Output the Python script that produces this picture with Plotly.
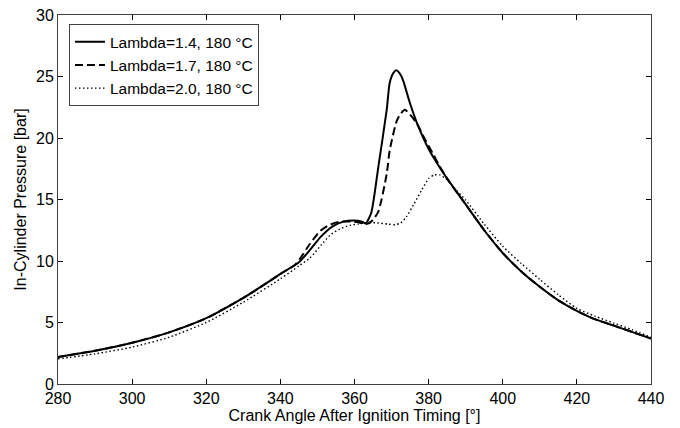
import plotly.graph_objects as go

# Lambda = 1.4
x14 = [280, 290, 300, 310, 320, 330, 335, 340, 345, 348, 351, 354, 357, 360, 362, 363,
       364.5, 366.5, 368.7, 369.5, 370.5, 371.3, 372.5, 373.2, 375, 377, 380, 383, 385,
       390, 395, 400, 405, 410, 415, 420, 425, 430, 435, 440]
y14 = [2.2, 2.7, 3.35, 4.2, 5.35, 7.0, 7.95, 8.95, 9.9, 10.9, 12.0, 12.8, 13.2, 13.3, 13.2, 13.05,
       13.9, 17.8, 22.3, 24.5, 25.3, 25.5, 25.1, 24.6, 22.8, 21.1, 19.1, 17.6, 16.7,
       14.6, 12.5, 10.65, 9.15, 7.9, 6.8, 5.95, 5.25, 4.75, 4.22, 3.7]

# Lambda = 1.7
x17 = [280, 290, 300, 310, 320, 330, 335, 340, 344, 346, 348, 350.6, 353, 356, 359, 361, 363,
       364.5, 366.4, 368.7, 369.5, 371.4, 372.5, 373.6, 375, 376.8, 379, 381.2, 383, 385,
       390, 395, 400, 405, 410, 415, 420, 425, 430, 435, 440]
y17 = [2.2, 2.7, 3.35, 4.2, 5.35, 7.0, 7.95, 8.95, 9.7, 10.5, 11.4, 12.4, 12.9, 13.2, 13.2, 13.15, 13.0,
       13.2, 14.0, 17.1, 19.0, 21.4, 22.0, 22.3, 21.9, 21.2, 19.9, 18.7, 17.7, 16.7,
       14.6, 12.5, 10.65, 9.15, 7.9, 6.8, 5.95, 5.25, 4.75, 4.22, 3.7]

# Lambda = 2.0
x20 = [280, 290, 300, 310, 320, 330, 340, 345, 348, 351, 353.4, 356, 358.8, 361, 363, 366,
       369, 371, 372.5, 374, 376, 378, 380, 381.5, 383, 385, 387, 390, 395, 400, 405, 410,
       415, 420, 425, 430, 435, 440]
y20 = [2.05, 2.45, 3.0, 3.8, 5.0, 6.65, 8.55, 9.6, 10.25, 11.3, 12.1, 12.6, 12.9, 13.0, 13.1, 13.1,
       13.0, 12.95, 13.1, 13.6, 14.6, 15.7, 16.7, 17.0, 17.0, 16.6, 15.9, 14.95, 13.0, 11.2, 9.8, 8.5,
       7.25, 6.15, 5.5, 4.95, 4.4, 3.8]

names = ["Lambda=1.4, 180 °C", "Lambda=1.7, 180 °C", "Lambda=2.0, 180 °C"]

x_ticks = [280, 300, 320, 340, 360, 380, 400, 420, 440]
y_ticks = [0, 5, 10, 15, 20, 25, 30]

fig = go.Figure()
fig.add_trace(go.Scatter(x=x14, y=y14, mode="lines", name=names[0],
                         line=dict(color="black", width=2, shape="spline", smoothing=0.6)))
fig.add_trace(go.Scatter(x=x17, y=y17, mode="lines", name=names[1],
                         line=dict(color="black", width=2, dash="8px,4px", shape="spline", smoothing=0.6)))
fig.add_trace(go.Scatter(x=x20, y=y20, mode="lines", name=names[2],
                         line=dict(color="black", width=1.4, dash="1.5px,2.5px", shape="spline", smoothing=0.6)))

font_family = "Liberation Sans, Arial, sans-serif"
axis_col = "#404040"

fig.update_layout(
    template="none",
    width=680, height=428,
    margin=dict(l=58, r=29, t=15, b=44, pad=0),
    paper_bgcolor="white", plot_bgcolor="white",
    font=dict(family=font_family, size=16, color="black"),
    showlegend=True,
    legend=dict(x=0.0185, y=0.975, xanchor="left", yanchor="top",
                bordercolor=axis_col, borderwidth=1, bgcolor="white",
                font=dict(size=15.5), tracegroupgap=0, itemwidth=30),
    xaxis=dict(range=[280, 440], tickvals=x_ticks, ticks="inside", ticklen=5,
               tickcolor="black", showline=True, linecolor=axis_col, linewidth=1,
               mirror="ticks", showgrid=False, zeroline=False, automargin=False,
               ticklabeloverflow="allow",
               title=dict(text="Crank Angle After Ignition Timing [°]", standoff=3,
                          font=dict(size=16))),
    yaxis=dict(range=[0, 30], tickvals=y_ticks, ticks="inside", ticklen=5,
               tickcolor="black", showline=True, linecolor=axis_col, linewidth=1,
               mirror="ticks", showgrid=False, zeroline=False, automargin=False,
               ticklabeloverflow="allow",
               title=dict(text="In-Cylinder Pressure [bar]", standoff=5,
                          font=dict(size=16))),
)

fig.write_html("out.html", config={"displayModeBar": False},
               post_script="document.body.style.margin='0px';")
